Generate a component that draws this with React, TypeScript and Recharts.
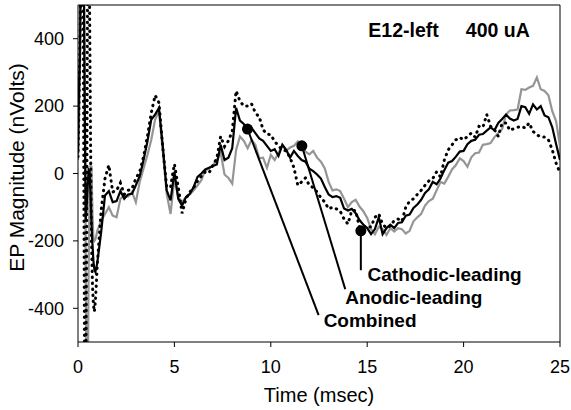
import { LineChart, Line, XAxis, YAxis, ReferenceLine, ReferenceDot } from "recharts";

// time in msec (finer steps over the stimulus artifact)
const times = [
  0, 0.05, 0.1, 0.15, 0.2, 0.25, 0.3, 0.35, 0.4, 0.45, 0.5, 0.55, 0.6, 0.65, 0.7, 0.75, 0.8, 0.85, 0.9, 0.95, 1.0,
  1.2, 1.4, 1.6, 1.8, 2.0, 2.2, 2.4, 2.6, 2.8, 3.0, 3.2, 3.4, 3.6, 3.8, 4.0, 4.2, 4.4, 4.6, 4.8, 5.0,
  5.2, 5.4, 5.6, 5.8, 6.0, 6.2, 6.4, 6.6, 6.8, 7.0, 7.2, 7.4, 7.6, 7.8, 8.0, 8.2, 8.4, 8.6, 8.8, 9.0,
  9.2, 9.4, 9.6, 9.8, 10.0, 10.2, 10.4, 10.6, 10.8, 11.0, 11.2, 11.4, 11.6, 11.8, 12.0, 12.2, 12.4, 12.6, 12.8, 13.0,
  13.2, 13.4, 13.6, 13.8, 14.0, 14.2, 14.4, 14.6, 14.8, 15.0, 15.2, 15.4, 15.6, 15.8, 16.0, 16.2, 16.4, 16.6, 16.8, 17.0,
  17.2, 17.4, 17.6, 17.8, 18.0, 18.2, 18.4, 18.6, 18.8, 19.0, 19.2, 19.4, 19.6, 19.8, 20.0, 20.2, 20.4, 20.6, 20.8, 21.0,
  21.2, 21.4, 21.6, 21.8, 22.0, 22.2, 22.4, 22.6, 22.8, 23.0, 23.2, 23.4, 23.6, 23.8, 24.0, 24.2, 24.4, 24.6, 24.8, 25.0,
];

const combined = [
  60, 250, 350, 700, 800, 700, 600, 200, -140, -100, -40, 10, 5, -60, -150, -210, -260, -285, -292, -280, -265,
  -175, -65, -52, -85, -82, -52, -75, -62, -60, -35, -8, 40, 95, 160, 175, 195, 80, -50, -80, 5,
  -75, -95, -70, -60, -40, -10, 0, 12, 17, 22, 27, 85, 40, 47, 75, 195, 157, 147, 127, 135,
  120, 104, 97, 82, 67, 72, 52, 85, 70, 47, 67, 52, 40, 35, 14, 7, -3, -15, -40, -62,
  -70, -67, -72, -104, -110, -105, -118, -138, -152, -162, -180, -165, -130, -180, -162, -152, -162, -147, -145, -125,
  -122, -102, -92, -78, -58, -47, -25, -32, -15, 10, 32, 37, 50, 65, 67, 87, 97, 100, 115, 117,
  127, 137, 128, 150, 162, 175, 163, 157, 162, 200, 197, 177, 205, 190, 200, 172, 167, 137, 87, 40,
];

const anodic = [
  40, 150, 300, 550, 750, 800, 650, 300, -300, -700, -700, -300, -40, 25, 20, -120, -195, -200, -195, -185, -170,
  -140, -120, -100, -125, -130, -75, -65, -68, -55, -85, -25, 15, 55, 100, 160, 185, 65, -60, -120, -15,
  -70, -85, -70, -62, -50, -35, -20, 10, 14, 25, 40, 62, -3, -13, -30, 70, 110, 97, 75, 100,
  85, 45, 47, 17, 55, 40, 60, 85, 68, 77, 82, 95, 82, 65, 57, 67, 47, 35, 15, -25,
  -50, -47, -52, -75, -100, -85, -78, -98, -112, -132, -165, -180, -158, -165, -182, -162, -172, -162, -165, -178,
  -170, -142, -130, -120, -95, -82, -75, -50, -25, -30, -10, 12, 25, 45, 37, 20, 48, 60, 62, 85,
  87, 90, 108, 120, 132, 175, 187, 188, 190, 250, 248, 255, 260, 285, 250, 245, 232, 185, 155, 80,
];

const cathodic = [
  50, 200, 380, 600, 800, 700, 0, -700, -700, -200, 600, 800, 500, 100, -200, -330, -390, -410, -380, -330, -270,
  -110, -15, 25, -55, -50, -28, -62, -50, -45, -15, 5, 50, 110, 180, 232, 210, 75, -40, -40, 28,
  -40, -118, -75, -55, -42, -22, -8, 5, 2, 25, 45, 110, 80, 97, 125, 245, 215, 200, 200, 207,
  180, 168, 130, 117, 115, 95, 82, 70, 67, 47, 17, -35, -25, -13, -35, -42, -55, -72, -85, -105,
  -100, -105, -112, -135, -150, -110, -110, -160, -155, -160, -158, -130, -120, -150, -162, -155, -140, -135, -142, -100,
  -82, -75, -62, -50, -35, -22, -15, 5, -10, 40, 70, 85, 100, 107, 100, 110, 120, 108, 140, 137,
  175, 140, 130, 110, 150, 150, 128, 133, 137, 140, 135, 150, 125, 115, 108, 108, 100, 70, 30, 2,
];

const xTicks = [0, 5, 10, 15, 20, 25];
const yTicks = [-400, -200, 0, 200, 400];

// callouts: marker on the trace, end of the leader line, where the label starts
const callouts = [
  { name: "Combined", mark: [8.79, 132], end: [12.48, -420], text: [12.74, -435] },
  { name: "Anodic-leading", mark: [11.61, 82], end: [13.86, -343], text: [13.86, -369] },
  { name: "Cathodic-leading", mark: [14.67, -170], end: [14.67, -287], text: [15.02, -299] },
];

const title = "E12-left     400 uA";

const data = times.map((t, i) => ({
  t,
  combined: combined[i],
  anodic: anodic[i],
  cathodic: cathodic[i],
}));

const font = "'Liberation Sans', Arial, sans-serif";

const boldText = (value: string, size: number) => (props: any) => {
  const { x, y } = props.viewBox;
  return (
    <text
      x={x}
      y={y}
      dominantBaseline="central"
      fontFamily={font}
      fontWeight="bold"
      fontSize={size}
      fill="#000"
      style={{ whiteSpace: "pre" }}
    >
      {value}
    </text>
  );
};

const App = () => {
  return (
    <div style={{ position: "absolute", left: 0, top: 0, background: "#fff" }}>
      <LineChart
        width={571}
        height={410}
        data={data}
        margin={{ top: 5, right: 11, bottom: 0, left: 0 }}
        style={{ fontFamily: font }}
      >
        <XAxis
          dataKey="t"
          type="number"
          domain={[0, 25]}
          ticks={xTicks}
          interval={0}
          allowDataOverflow
          height={68}
          tickSize={5}
          tickMargin={13}
          stroke="#000"
          tick={{ fill: "#000", fontSize: 18 }}
          label={(props: any) => {
            const vb = props.viewBox;
            return (
              <text
                x={vb.x + vb.width / 2}
                y={vb.y + 53}
                textAnchor="middle"
                dominantBaseline="central"
                fontFamily={font}
                fontSize={20}
                fill="#000"
              >
                Time (msec)
              </text>
            );
          }}
        />
        <YAxis
          type="number"
          domain={[-500, 500]}
          ticks={yTicks}
          interval={0}
          allowDataOverflow
          width={78}
          tickSize={5}
          tickMargin={9}
          stroke="#000"
          tick={{ fill: "#000", fontSize: 18 }}
          label={(props: any) => {
            const vb = props.viewBox;
            const cx = 16;
            const cy = vb.y + vb.height / 2 - 6;
            return (
              <text
                x={cx}
                y={cy}
                transform={`rotate(-90, ${cx}, ${cy})`}
                textAnchor="middle"
                dominantBaseline="central"
                fontFamily={font}
                fontSize={21}
                fill="#000"
              >
                EP Magnitude (nVolts)
              </text>
            );
          }}
        />
        <ReferenceLine y={500} stroke="#000" strokeWidth={1} />
        <ReferenceLine x={25} stroke="#000" strokeWidth={1} />

        <Line
          dataKey="anodic"
          type="linear"
          stroke="#959595"
          strokeWidth={2.2}
          dot={false}
          isAnimationActive={false}
        />
        <Line
          dataKey="cathodic"
          type="linear"
          stroke="#000"
          strokeWidth={3}
          strokeDasharray="0.5 5.5"
          strokeLinecap="round"
          dot={false}
          isAnimationActive={false}
        />
        <Line
          dataKey="combined"
          type="linear"
          stroke="#000"
          strokeWidth={2.2}
          dot={false}
          isAnimationActive={false}
        />

        {callouts.map((c) => (
          <ReferenceLine
            key={c.name + "-line"}
            segment={[
              { x: c.mark[0], y: c.mark[1] },
              { x: c.end[0], y: c.end[1] },
            ]}
            stroke="#000"
            strokeWidth={2}
          />
        ))}
        {callouts.map((c) => (
          <ReferenceDot
            key={c.name + "-mark"}
            x={c.mark[0]}
            y={c.mark[1]}
            r={5.5}
            fill="#000"
            stroke="none"
          />
        ))}
        {callouts.map((c) => (
          <ReferenceDot
            key={c.name + "-text"}
            x={c.text[0]}
            y={c.text[1]}
            r={0}
            fill="none"
            stroke="none"
            label={boldText(c.name, 19)}
          />
        ))}
        <ReferenceDot x={15.06} y={425} r={0} fill="none" stroke="none" label={boldText(title, 19.5)} />
      </LineChart>
    </div>
  );
};

export default App;
